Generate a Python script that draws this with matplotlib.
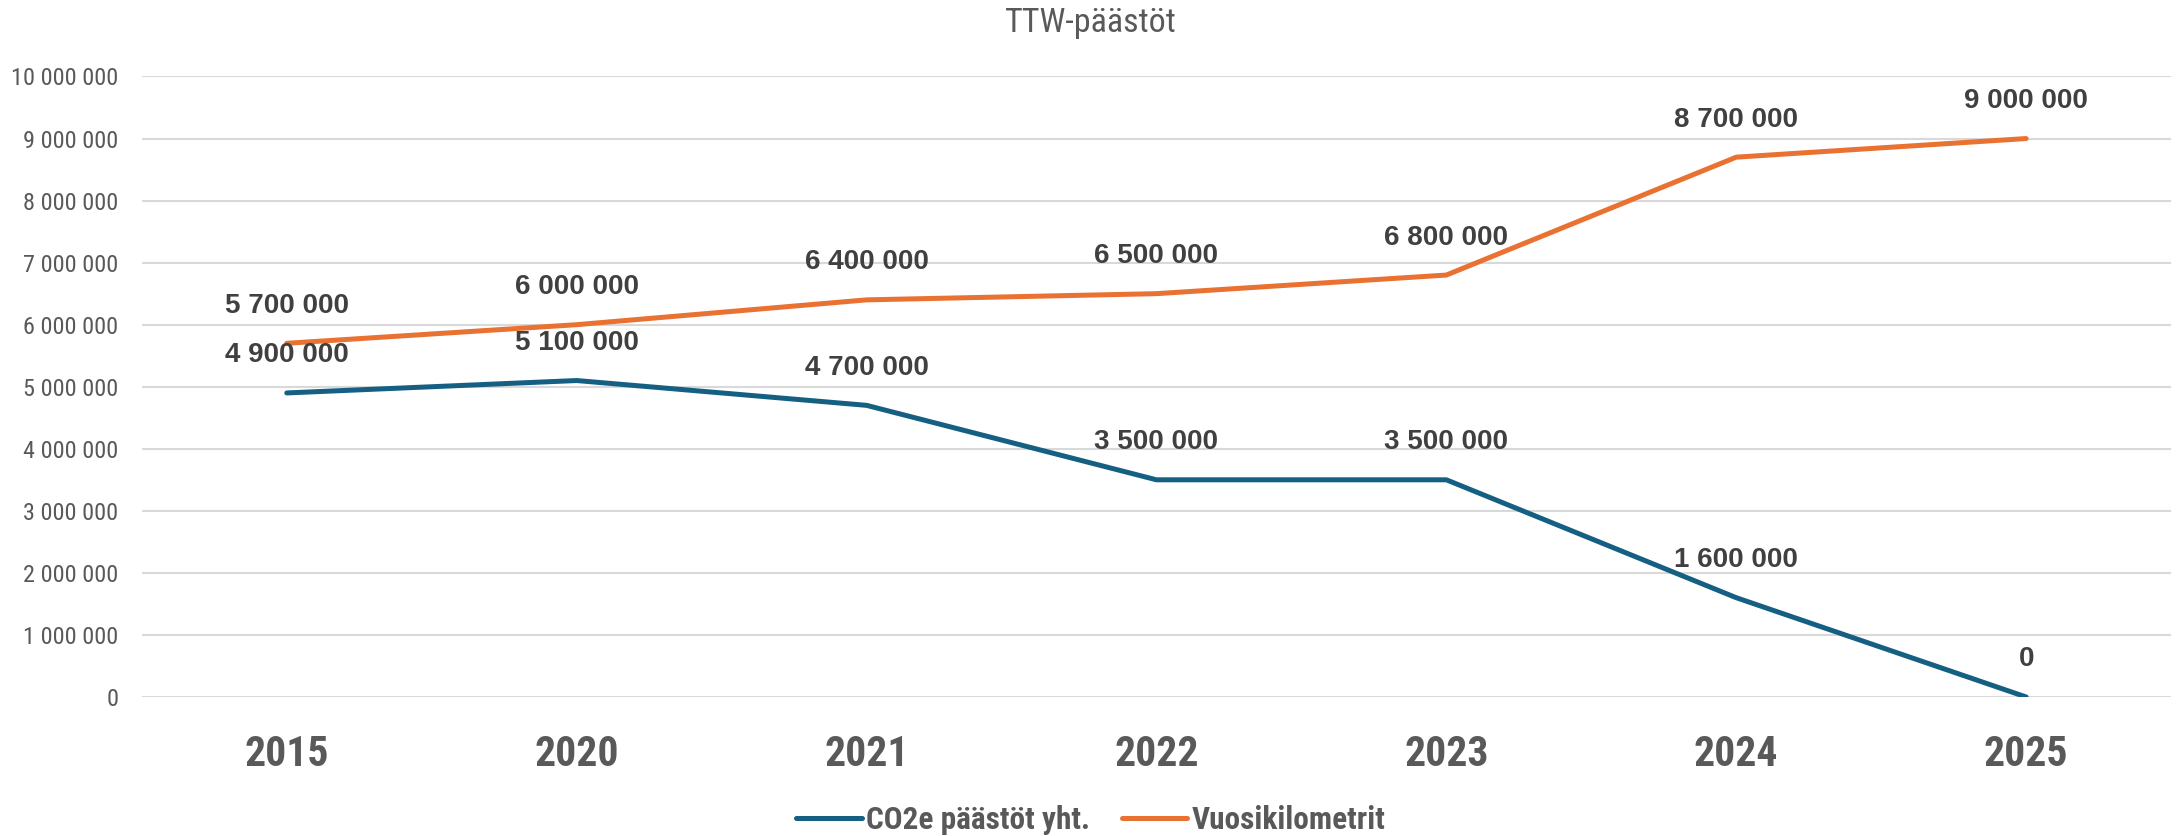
import matplotlib
matplotlib.use("Agg")
import matplotlib.pyplot as plt
from matplotlib import font_manager as fm
from matplotlib.ticker import FuncFormatter, MultipleLocator

years = ["2015", "2020", "2021", "2022", "2023", "2024", "2025"]
co2 = [4900000, 5100000, 4700000, 3500000, 3500000, 1600000, 0]
km = [5700000, 6000000, 6400000, 6500000, 6800000, 8700000, 9000000]
series_names = ["CO2e päästöt yht.", "Vuosikilometrit"]
title = "TTW-päästöt"

avail = {f.name for f in fm.fontManager.ttflist}
def pick(*names):
    for n in names:
        if n in avail:
            return n
    return "DejaVu Sans"

narrow = pick("Liberation Sans Narrow", "Roboto Condensed", "Open Sans Condensed", "Liberation Sans")
wide = pick("Liberation Sans", "Roboto", "DejaVu Sans")

BLUE = "#156082"
ORANGE = "#E97132"
GRAY = "#595959"
DARK = "#404040"

def fmt(v, pos=None):
    return f"{int(round(v)):,}".replace(",", " ")

fig = plt.figure(figsize=(21.82, 8.36), dpi=100)
ax = fig.add_axes([0.065, 0.1663, 0.93, 0.7422])

x = list(range(len(years)))
ax.plot(x, co2, color=BLUE, lw=3.6, solid_capstyle="round", zorder=3, label=series_names[0])
ax.plot(x, km, color=ORANGE, lw=3.6, solid_capstyle="round", zorder=3, label=series_names[1])

for xs, vals in ((x, km), (x, co2)):
    for xi, v in zip(xs, vals):
        ax.annotate(fmt(v), (xi, v), xytext=(0, 27), textcoords="offset points",
                    ha="center", va="center", fontsize=20, fontweight="bold",
                    color=DARK, family=wide, zorder=4)

ax.set_xlim(-0.5, len(years) - 0.5)
ax.set_ylim(0, 10000000)
ax.yaxis.set_major_locator(MultipleLocator(1000000))
ax.yaxis.set_major_formatter(FuncFormatter(fmt))
ax.set_xticks(x)
ax.set_xticklabels(years)
for lab in ax.get_xticklabels():
    lab.set_fontsize(30)
    lab.set_fontweight("bold")
    lab.set_color(GRAY)
    lab.set_family(narrow)
for lab in ax.get_yticklabels():
    lab.set_fontsize(17.5)
    lab.set_color(GRAY)
    lab.set_family(narrow)
ax.tick_params(axis="x", length=0, pad=27)
ax.tick_params(axis="y", length=0, pad=17)
ax.grid(axis="y", color="#D9D9D9", lw=1.5, zorder=0)
for s in ax.spines.values():
    s.set_visible(False)

fig.text(0.5, 0.972, title, ha="center", va="center", fontsize=24.5, color=GRAY, family=narrow)

leg = fig.legend(loc="center", bbox_to_anchor=(0.5, 0.019), ncol=2, frameon=False,
                 prop={"family": narrow, "weight": "bold", "size": 22.5},
                 handlelength=2.1, handletextpad=0.15, columnspacing=1.0)
for t in leg.get_texts():
    t.set_color(GRAY)

fig.savefig("out.png", dpi=100)
